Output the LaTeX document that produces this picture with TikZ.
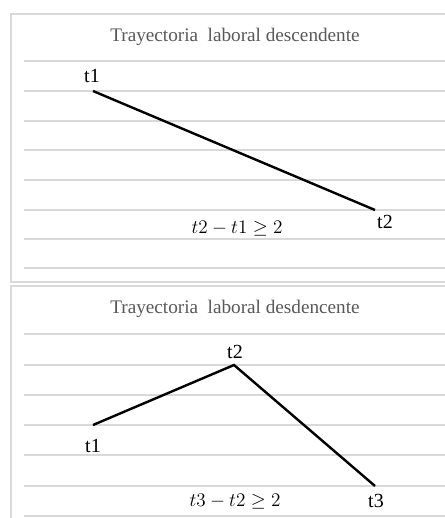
\documentclass[tikz,border=0pt]{standalone}
\usepackage{fontspec}
\setmainfont{Liberation Serif}
\definecolor{trGrid}{HTML}{D9D9D9}
\definecolor{trTitle}{HTML}{595959}
\tikzset{
  tr frame/.style={draw=trGrid, line width=0.8pt},
  tr grid/.style={draw=trGrid, line width=0.8pt},
  tr line/.style={draw=black, line width=1.8pt},
  tr title/.style={font=\fontsize{14.4}{17}\selectfont, text=trTitle},
  tr label/.style={font=\fontsize{15}{18}\selectfont, inner sep=1pt},
  tr formula/.style={font=\fontsize{14.5}{17}\selectfont, inner sep=0pt},
}
\begin{document}
\begin{tikzpicture}[x=0.75pt,y=-0.75pt]
  \clip (0,0) rectangle (445,518);
  \fill[white] (0,0) rectangle (445,518);
  % panel frames
  \draw[tr frame] (11,14) rectangle (460,282);
  \draw[tr frame] (11,286) rectangle (460,530);
  % grid lines
  \foreach \y in {61,91,121,150,180,210,239,268}
    \draw[tr grid] (24,\y) -- (445,\y);
  \foreach \y in {334,365,395,425,455,486,516}
    \draw[tr grid] (24,\y) -- (445,\y);
  % top chart
  \node[tr title] (title1) at (235,37) {Trayectoria\ \ laboral descendente};
  \coordinate (p1) at (93,91);
  \coordinate (p2) at (375,210);
  \draw[tr line] (p1) -- (p2);
  \node[tr label] (t1a) at (92,76) {t1};
  \node[tr label] (t2a) at (385,222) {t2};
  \node[tr formula] (f1) at (237,229) {$t2-t1\geq 2$};
  % bottom chart
  \node[tr title] (title2) at (235,309) {Trayectoria\ \ laboral desdencente};
  \coordinate (q1) at (93,425);
  \coordinate (q2) at (234,365);
  \coordinate (q3) at (375,486);
  \draw[tr line] (q1) -- (q2) -- (q3);
  \node[tr label] (t1b) at (93,446) {t1};
  \node[tr label] (t2b) at (235,352) {t2};
  \node[tr label] (t3b) at (376,501) {t3};
  \node[tr formula] (f2) at (235,502) {$t3-t2\geq 2$};
\end{tikzpicture}
\end{document}
